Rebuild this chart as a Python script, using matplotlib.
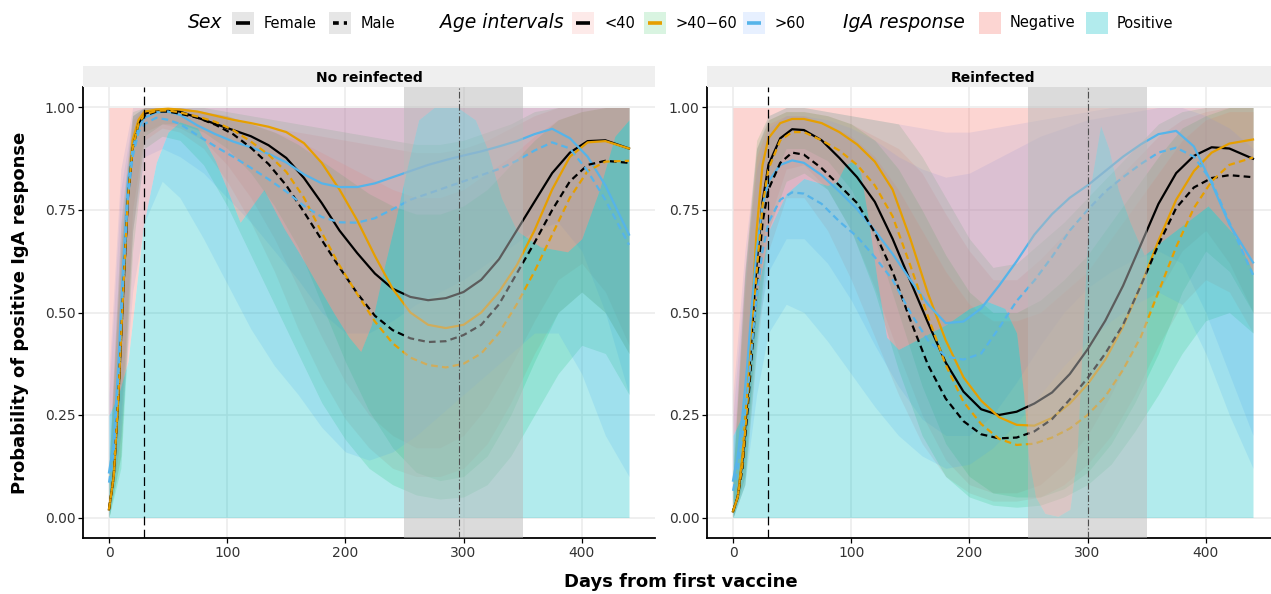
import matplotlib
matplotlib.use("Agg")
import matplotlib.pyplot as plt
from matplotlib.patches import Rectangle
from matplotlib.lines import Line2D

# ---------------- data ----------------
days = [0, 4, 8, 12, 16, 20, 25, 30, 40, 50, 60, 75, 90, 105, 120, 135, 150, 165,
        180, 195, 210, 225, 240, 255, 270, 285, 300, 315, 330, 345, 360, 375, 390, 405, 420, 440]

# No reinfected
nr_female_lt40 = [0.02, 0.10, 0.30, 0.55, 0.78, 0.90, 0.96, 0.985, 0.993, 0.995, 0.99, 0.975, 0.96, 0.945, 0.93, 0.908, 0.877, 0.828,
                  0.767, 0.70, 0.645, 0.595, 0.558, 0.538, 0.53, 0.535, 0.55, 0.58, 0.63, 0.70, 0.77, 0.84, 0.89, 0.918, 0.92, 0.90]
nr_female_4060 = [0.02, 0.10, 0.30, 0.56, 0.80, 0.92, 0.97, 0.99, 0.995, 0.997, 0.995, 0.99, 0.98, 0.97, 0.962, 0.953, 0.94, 0.913,
                  0.865, 0.80, 0.725, 0.638, 0.558, 0.50, 0.47, 0.462, 0.47, 0.50, 0.55, 0.615, 0.70, 0.80, 0.88, 0.915, 0.918, 0.90]
nr_female_gt60 = [0.11, 0.18, 0.38, 0.62, 0.82, 0.90, 0.95, 0.975, 0.988, 0.99, 0.982, 0.956, 0.935, 0.917, 0.903, 0.887, 0.866, 0.837,
                  0.815, 0.806, 0.806, 0.815, 0.83, 0.845, 0.86, 0.872, 0.883, 0.893, 0.905, 0.918, 0.935, 0.948, 0.925, 0.88, 0.81, 0.69]
nr_male_lt40 = [0.02, 0.10, 0.30, 0.55, 0.78, 0.90, 0.96, 0.98, 0.99, 0.99, 0.985, 0.975, 0.958, 0.935, 0.902, 0.862, 0.81, 0.745,
                0.677, 0.61, 0.547, 0.492, 0.457, 0.437, 0.428, 0.43, 0.445, 0.47, 0.52, 0.595, 0.67, 0.75, 0.82, 0.86, 0.87, 0.865]
nr_male_4060 = [0.02, 0.10, 0.30, 0.55, 0.78, 0.90, 0.96, 0.983, 0.992, 0.993, 0.988, 0.978, 0.965, 0.945, 0.917, 0.885, 0.843, 0.78,
                0.695, 0.615, 0.545, 0.478, 0.425, 0.39, 0.372, 0.366, 0.375, 0.40, 0.45, 0.52, 0.60, 0.69, 0.78, 0.845, 0.868, 0.87]
nr_male_gt60 = [0.085, 0.16, 0.35, 0.58, 0.78, 0.88, 0.94, 0.96, 0.975, 0.97, 0.96, 0.932, 0.905, 0.88, 0.853, 0.825, 0.795, 0.76,
                0.733, 0.72, 0.719, 0.73, 0.752, 0.775, 0.79, 0.805, 0.82, 0.835, 0.85, 0.87, 0.895, 0.915, 0.90, 0.845, 0.775, 0.665]

# Reinfected
rf_female_lt40 = [0.015, 0.05, 0.14, 0.28, 0.45, 0.62, 0.77, 0.86, 0.925, 0.947, 0.945, 0.92, 0.877, 0.83, 0.77, 0.68, 0.577, 0.475,
                  0.378, 0.307, 0.264, 0.25, 0.258, 0.278, 0.305, 0.35, 0.41, 0.48, 0.565, 0.665, 0.765, 0.84, 0.882, 0.903, 0.90, 0.875]
rf_female_4060 = [0.015, 0.05, 0.15, 0.30, 0.50, 0.70, 0.86, 0.925, 0.962, 0.972, 0.972, 0.962, 0.94, 0.91, 0.868, 0.80, 0.68, 0.546,
                  0.432, 0.342, 0.285, 0.245, 0.226, 0.224, 0.243, 0.278, 0.325, 0.385, 0.465, 0.565, 0.675, 0.775, 0.845, 0.89, 0.912, 0.922]
rf_female_gt60 = [0.09, 0.15, 0.25, 0.37, 0.52, 0.65, 0.76, 0.82, 0.86, 0.871, 0.865, 0.835, 0.795, 0.752, 0.70, 0.643, 0.58, 0.52,
                  0.474, 0.478, 0.51, 0.565, 0.625, 0.69, 0.74, 0.78, 0.81, 0.845, 0.88, 0.91, 0.935, 0.943, 0.905, 0.815, 0.715, 0.622]
rf_male_lt40 = [0.015, 0.05, 0.12, 0.25, 0.40, 0.56, 0.72, 0.80, 0.865, 0.89, 0.885, 0.852, 0.81, 0.767, 0.695, 0.60, 0.482, 0.372,
                0.29, 0.235, 0.203, 0.193, 0.195, 0.21, 0.24, 0.288, 0.34, 0.40, 0.47, 0.565, 0.665, 0.755, 0.805, 0.828, 0.835, 0.83]
rf_male_4060 = [0.015, 0.05, 0.13, 0.27, 0.43, 0.60, 0.76, 0.85, 0.92, 0.94, 0.94, 0.92, 0.895, 0.86, 0.81, 0.735, 0.615, 0.49,
                0.372, 0.282, 0.228, 0.192, 0.177, 0.18, 0.195, 0.217, 0.25, 0.295, 0.36, 0.44, 0.55, 0.66, 0.755, 0.82, 0.86, 0.878]
rf_male_gt60 = [0.065, 0.12, 0.20, 0.30, 0.42, 0.54, 0.65, 0.72, 0.775, 0.793, 0.79, 0.765, 0.722, 0.685, 0.635, 0.58, 0.50, 0.432,
                0.393, 0.385, 0.4, 0.462, 0.528, 0.578, 0.636, 0.70, 0.75, 0.795, 0.83, 0.862, 0.89, 0.902, 0.88, 0.82, 0.72, 0.592]

# confidence ribbons (lower / upper) on a coarser grid
band_days = [0, 10, 20, 30, 45, 60, 80, 100, 120, 140, 160, 180, 200, 220, 240, 260, 280, 300, 320, 340, 360, 380, 400, 420, 440]

nr_f_lt40_lo = [0.0, 0.2, 0.75, 0.94, 0.96, 0.95, 0.92, 0.86, 0.78, 0.68, 0.56, 0.44, 0.33, 0.25, 0.2, 0.17, 0.17, 0.2, 0.27, 0.37, 0.48, 0.58, 0.62, 0.55, 0.42]
nr_f_lt40_hi = [0.15, 0.7, 0.98, 1.0, 1.0, 1.0, 0.99, 0.97, 0.96, 0.95, 0.94, 0.93, 0.92, 0.91, 0.9, 0.89, 0.89, 0.9, 0.92, 0.95, 0.98, 1.0, 1.0, 1.0, 1.0]
nr_f_4060_lo = [0.0, 0.15, 0.7, 0.93, 0.96, 0.96, 0.94, 0.9, 0.84, 0.76, 0.66, 0.52, 0.38, 0.26, 0.17, 0.11, 0.09, 0.1, 0.15, 0.25, 0.38, 0.5, 0.55, 0.5, 0.4]
nr_f_4060_hi = [0.12, 0.72, 0.99, 1.0, 1.0, 1.0, 1.0, 0.99, 0.98, 0.97, 0.96, 0.95, 0.94, 0.93, 0.92, 0.91, 0.91, 0.92, 0.94, 0.96, 0.99, 1.0, 1.0, 1.0, 1.0]
nr_f_gt60_lo = [0.0, 0.25, 0.7, 0.88, 0.9, 0.88, 0.84, 0.78, 0.72, 0.65, 0.58, 0.5, 0.45, 0.45, 0.48, 0.52, 0.55, 0.58, 0.62, 0.66, 0.7, 0.72, 0.65, 0.5, 0.3]
nr_f_gt60_hi = [0.35, 0.85, 1.0, 1.0, 1.0, 1.0, 1.0, 1.0, 1.0, 1.0, 1.0, 1.0, 1.0, 1.0, 1.0, 1.0, 1.0, 1.0, 1.0, 1.0, 1.0, 1.0, 1.0, 1.0, 1.0]
nr_m_lt40_lo = [0.0, 0.15, 0.7, 0.92, 0.95, 0.94, 0.9, 0.82, 0.72, 0.6, 0.46, 0.34, 0.24, 0.17, 0.12, 0.1, 0.1, 0.12, 0.18, 0.28, 0.4, 0.5, 0.55, 0.5, 0.4]
nr_m_lt40_hi = [0.12, 0.65, 0.97, 1.0, 1.0, 1.0, 0.99, 0.98, 0.96, 0.94, 0.92, 0.89, 0.86, 0.83, 0.8, 0.78, 0.78, 0.8, 0.84, 0.88, 0.93, 0.97, 0.99, 1.0, 1.0]
nr_m_4060_lo = [0.0, 0.12, 0.65, 0.9, 0.93, 0.92, 0.86, 0.76, 0.64, 0.52, 0.4, 0.28, 0.19, 0.12, 0.08, 0.055, 0.045, 0.05, 0.08, 0.15, 0.25, 0.35, 0.42, 0.4, 0.3]
nr_m_4060_hi = [0.12, 0.66, 0.98, 1.0, 1.0, 1.0, 0.99, 0.98, 0.96, 0.94, 0.91, 0.87, 0.83, 0.79, 0.76, 0.74, 0.74, 0.76, 0.8, 0.86, 0.92, 0.97, 0.99, 1.0, 1.0]
nr_m_gt60_lo = [0.0, 0.2, 0.55, 0.72, 0.82, 0.78, 0.68, 0.57, 0.46, 0.37, 0.3, 0.22, 0.16, 0.14, 0.16, 0.2, 0.25, 0.3, 0.35, 0.4, 0.45, 0.45, 0.35, 0.2, 0.1]
nr_m_gt60_hi = [0.3, 0.8, 0.98, 1.0, 1.0, 1.0, 1.0, 1.0, 1.0, 1.0, 1.0, 1.0, 1.0, 1.0, 1.0, 1.0, 1.0, 1.0, 1.0, 1.0, 1.0, 1.0, 1.0, 1.0, 1.0]

rf_f_lt40_lo = [0.0, 0.1, 0.45, 0.72, 0.85, 0.86, 0.8, 0.7, 0.56, 0.4, 0.25, 0.14, 0.08, 0.06, 0.06, 0.08, 0.13, 0.2, 0.3, 0.42, 0.55, 0.65, 0.7, 0.62, 0.5]
rf_f_lt40_hi = [0.15, 0.6, 0.9, 0.97, 0.99, 0.99, 0.98, 0.96, 0.93, 0.9, 0.84, 0.74, 0.65, 0.58, 0.58, 0.63, 0.69, 0.75, 0.81, 0.87, 0.93, 0.97, 0.99, 1.0, 1.0]
rf_f_4060_lo = [0.0, 0.1, 0.5, 0.8, 0.9, 0.9, 0.87, 0.8, 0.68, 0.5, 0.32, 0.18, 0.1, 0.06, 0.05, 0.05, 0.07, 0.11, 0.18, 0.28, 0.4, 0.55, 0.65, 0.6, 0.5]
rf_f_4060_hi = [0.1, 0.6, 0.92, 0.98, 1.0, 1.0, 0.99, 0.98, 0.97, 0.96, 0.88, 0.78, 0.68, 0.61, 0.62, 0.67, 0.72, 0.78, 0.84, 0.9, 0.96, 0.99, 1.0, 1.0, 1.0]
rf_f_gt60_lo = [0.0, 0.15, 0.45, 0.6, 0.68, 0.68, 0.62, 0.53, 0.42, 0.32, 0.24, 0.2, 0.2, 0.25, 0.33, 0.42, 0.5, 0.56, 0.6, 0.63, 0.65, 0.62, 0.5, 0.35, 0.2]
rf_f_gt60_hi = [0.3, 0.65, 0.9, 0.98, 1.0, 1.0, 0.99, 0.98, 0.97, 0.96, 0.95, 0.94, 0.94, 0.95, 0.96, 0.97, 0.98, 0.99, 1.0, 1.0, 1.0, 1.0, 1.0, 1.0, 1.0]
rf_m_lt40_lo = [0.0, 0.08, 0.4, 0.65, 0.78, 0.78, 0.7, 0.58, 0.44, 0.3, 0.18, 0.1, 0.06, 0.04, 0.04, 0.05, 0.08, 0.13, 0.2, 0.3, 0.42, 0.52, 0.58, 0.55, 0.45]
rf_m_lt40_hi = [0.1, 0.55, 0.88, 0.96, 0.98, 0.98, 0.96, 0.93, 0.88, 0.8, 0.7, 0.6, 0.52, 0.48, 0.48, 0.5, 0.55, 0.6, 0.68, 0.76, 0.84, 0.92, 0.97, 0.99, 0.99]
rf_m_4060_lo = [0.0, 0.08, 0.42, 0.7, 0.82, 0.84, 0.8, 0.7, 0.55, 0.36, 0.2, 0.1, 0.05, 0.03, 0.025, 0.03, 0.05, 0.08, 0.13, 0.21, 0.3, 0.4, 0.48, 0.5, 0.45]
rf_m_4060_hi = [0.1, 0.58, 0.9, 0.97, 0.99, 0.99, 0.98, 0.96, 0.92, 0.85, 0.75, 0.64, 0.55, 0.5, 0.5, 0.53, 0.58, 0.64, 0.72, 0.8, 0.88, 0.95, 0.98, 1.0, 1.0]
rf_m_gt60_lo = [0.0, 0.08, 0.3, 0.45, 0.52, 0.5, 0.43, 0.35, 0.27, 0.2, 0.15, 0.12, 0.13, 0.17, 0.23, 0.3, 0.37, 0.43, 0.48, 0.52, 0.55, 0.52, 0.4, 0.25, 0.12]
rf_m_gt60_hi = [0.25, 0.6, 0.85, 0.95, 0.98, 0.98, 0.97, 0.95, 0.92, 0.88, 0.85, 0.83, 0.84, 0.87, 0.9, 0.93, 0.95, 0.97, 0.98, 0.99, 1.0, 1.0, 0.98, 0.95, 0.9]

# IgA response density split (positive below, negative above)
nr_dens_days = [0, 8, 16, 29, 40, 50, 60, 75, 90, 100, 111, 121, 131, 148, 162, 176, 190, 203, 213, 222, 232, 242, 252,
                262, 275, 295, 310, 320, 332, 345, 365, 388, 400, 415, 428, 440]
nr_dens_pos = [0.25, 0.3, 0.38, 0.71, 0.866, 0.94, 0.965, 0.95, 0.87, 0.8, 0.72, 0.76, 0.80, 0.706, 0.64, 0.57, 0.50, 0.44,
               0.405, 0.47, 0.6, 0.72, 0.85, 0.97, 1.0, 1.0, 0.97, 0.9, 0.78, 0.7, 0.66, 0.648, 0.68, 0.8, 0.93, 0.97]
rf_dens_days = [0, 8, 14, 20, 31, 45, 60, 80, 88, 95, 102, 108, 115, 122, 130, 140, 160, 180, 200, 215, 230, 240, 246, 250,
                256, 264, 275, 285, 291, 296, 302, 311, 318, 326, 336, 348, 370, 402, 424, 440]
rf_dens_pos = [0.2, 0.25, 0.38, 0.54, 0.705, 0.79, 0.827, 0.81, 0.82, 0.86, 0.87, 0.84, 0.72, 0.58, 0.44, 0.41, 0.44, 0.47,
               0.51, 0.527, 0.51, 0.45, 0.3, 0.15, 0.05, 0.01, 0.003, 0.02, 0.15, 0.45, 0.8, 0.956, 0.9, 0.8, 0.72, 0.64,
               0.69, 0.76, 0.69, 0.6]

age_labels = ["<40", ">40\u221260", ">60"]
sex_labels = ["Female", "Male"]
iga_labels = ["Negative", "Positive"]
x_ticks = [0, 100, 200, 300, 400]
y_ticks = [0.0, 0.25, 0.50, 0.75, 1.00]

line_cols = ["#000000", "#E69F00", "#56B4E9"]
band_cols = ["#F8766D", "#00BA38", "#619CFF"]
neg_col, pos_col = "#F8766D", "#00BFC4"
dash = (0, (3.0, 1.9))

panels = [
    dict(title="No reinfected", vline=296,
         lines=[nr_female_lt40, nr_female_4060, nr_female_gt60, nr_male_lt40, nr_male_4060, nr_male_gt60],
         bands=[(nr_f_lt40_lo, nr_f_lt40_hi), (nr_f_4060_lo, nr_f_4060_hi), (nr_f_gt60_lo, nr_f_gt60_hi),
                (nr_m_lt40_lo, nr_m_lt40_hi), (nr_m_4060_lo, nr_m_4060_hi), (nr_m_gt60_lo, nr_m_gt60_hi)],
         dens=(nr_dens_days, nr_dens_pos)),
    dict(title="Reinfected", vline=300,
         lines=[rf_female_lt40, rf_female_4060, rf_female_gt60, rf_male_lt40, rf_male_4060, rf_male_gt60],
         bands=[(rf_f_lt40_lo, rf_f_lt40_hi), (rf_f_4060_lo, rf_f_4060_hi), (rf_f_gt60_lo, rf_f_gt60_hi),
                (rf_m_lt40_lo, rf_m_lt40_hi), (rf_m_4060_lo, rf_m_4060_hi), (rf_m_gt60_lo, rf_m_gt60_hi)],
         dens=(rf_dens_days, rf_dens_pos)),
]

W, H = 1271, 594
fig = plt.figure(figsize=(W / 100, H / 100), dpi=100)


def fx(px):
    return px / W


def fy(py):
    return 1 - py / H


for i, p in enumerate(panels):
    left = 83 if i == 0 else 707
    ax = fig.add_axes([fx(left), fy(538), 572 / W, 451 / H])
    strip = fig.add_axes([fx(left), fy(87), 572 / W, 21 / H])
    strip.set_facecolor("#efefef")
    strip.set_xticks([]); strip.set_yticks([])
    for s in strip.spines.values():
        s.set_visible(False)
    strip.text(0.5, 0.45, p["title"], ha="center", va="center", fontsize=10, fontweight="bold")

    # ribbons
    for k, (lo, hi) in enumerate(p["bands"]):
        ax.fill_between(band_days, lo, hi, color=band_cols[k % 3], alpha=0.16, lw=0, zorder=1)
    # IgA response split
    dx, dy = p["dens"]
    ax.fill_between(dx, 0, dy, color=pos_col, alpha=0.3, lw=0, zorder=1.5)
    ax.fill_between(dx, dy, 1, color=neg_col, alpha=0.3, lw=0, zorder=1.5)
    # fitted curves
    for k, yv in enumerate(p["lines"]):
        ls = "-" if k < 3 else dash
        ax.plot(days, yv, color=line_cols[k % 3], lw=1.6, ls=ls, zorder=3)

    ax.axvspan(250, 350, color="#b9b9b9", alpha=0.5, lw=0, zorder=4)
    ax.axvline(30, color="black", lw=0.9, ls=(0, (7, 3.5)), zorder=5)
    ax.axvline(p["vline"], color="#4d4d4d", lw=0.8, ls=(0, (6, 2, 1, 2)), zorder=5)

    ax.set_xlim(-22, 462)
    ax.set_ylim(-0.05, 1.05)
    ax.set_xticks(x_ticks)
    ax.set_yticks(y_ticks)
    ax.set_yticklabels([f"{v:.2f}" for v in y_ticks])
    ax.grid(color="#ebebeb", lw=1.1)
    ax.set_axisbelow(True)
    for s in ["top", "right"]:
        ax.spines[s].set_visible(False)
    for s in ["left", "bottom"]:
        ax.spines[s].set_linewidth(1.3)
    ax.tick_params(length=3.5, width=0.9, labelsize=10, labelcolor="#333333", pad=2)

fig.text(fx(20), fy(313), "Probability of positive IgA response", rotation=90, ha="center", va="center",
         fontsize=13, fontweight="bold")
fig.text(fx(681), fy(582), "Days from first vaccine", ha="center", va="center", fontsize=13, fontweight="bold")

# ---------------- legend ----------------
ly = fy(23)
kh = 22 / H
kw = 22 / W


def key_box(px, color, alpha=1.0):
    fig.add_artist(Rectangle((fx(px), ly - kh / 2), kw, kh, transform=fig.transFigure,
                             facecolor=color, alpha=alpha, lw=0))


def key_line(px, color, ls="-"):
    fig.add_artist(Line2D([fx(px + 4), fx(px + 18)], [ly, ly], transform=fig.transFigure,
                          color=color, lw=2.6, ls=ls, solid_capstyle="butt", dash_capstyle="butt"))


fig.text(fx(188), ly, "Sex", fontsize=13.5, style="italic", va="center")
key_box(232, "#e6e6e6"); key_line(232, "black")
fig.text(fx(264), ly, sex_labels[0], fontsize=10.5, va="center")
key_box(329, "#e6e6e6"); key_line(329, "black", (0, (1.6, 1.4)))
fig.text(fx(361), ly, sex_labels[1], fontsize=10.5, va="center")

fig.text(fx(440), ly, "Age intervals", fontsize=13.5, style="italic", va="center")
for px, tx, lab, c, bc in zip([572, 644, 743], [604, 675, 774], age_labels, line_cols, band_cols):
    key_box(px, bc, alpha=0.15)
    key_line(px, c)
    fig.text(fx(tx), ly, lab, fontsize=10.5, va="center")

fig.text(fx(843), ly, "IgA response", fontsize=13.5, style="italic", va="center")
key_box(979, neg_col, alpha=0.3)
fig.text(fx(1010), ly, iga_labels[0], fontsize=10.5, va="center")
key_box(1086, pos_col, alpha=0.3)
fig.text(fx(1117), ly, iga_labels[1], fontsize=10.5, va="center")

fig.savefig("out.png", dpi=100)
